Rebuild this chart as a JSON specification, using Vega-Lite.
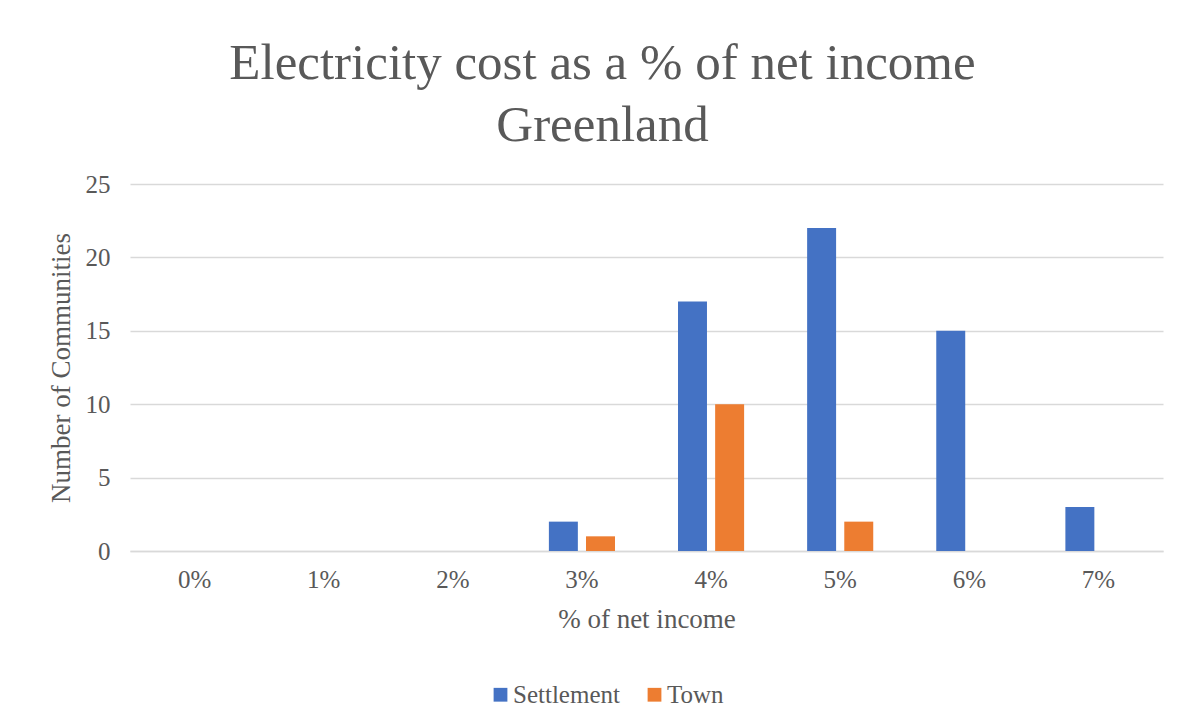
{
  "$schema": "https://vega.github.io/schema/vega-lite/v6.json",
  "autosize": {"type": "none"},
  "padding": {"left": 130, "top": 184, "right": 24, "bottom": 172},
  "width": 1033,
  "height": 367,
  "background": "white",
  "title": {
    "text": ["Electricity cost as a % of net income", "Greenland"],
    "anchor": "middle",
    "frame": "group",
    "dx": -44,
    "fontSize": 51,
    "lineHeight": 62,
    "font": "Liberation Serif",
    "fontWeight": "normal",
    "color": "#595959",
    "offset": 20
  },
  "data": {
    "values": [
      {"pct": "0%", "type": "Settlement", "count": 0},
      {"pct": "0%", "type": "Town", "count": 0},
      {"pct": "1%", "type": "Settlement", "count": 0},
      {"pct": "1%", "type": "Town", "count": 0},
      {"pct": "2%", "type": "Settlement", "count": 0},
      {"pct": "2%", "type": "Town", "count": 0},
      {"pct": "3%", "type": "Settlement", "count": 2},
      {"pct": "3%", "type": "Town", "count": 1},
      {"pct": "4%", "type": "Settlement", "count": 17},
      {"pct": "4%", "type": "Town", "count": 10},
      {"pct": "5%", "type": "Settlement", "count": 22},
      {"pct": "5%", "type": "Town", "count": 2},
      {"pct": "6%", "type": "Settlement", "count": 15},
      {"pct": "6%", "type": "Town", "count": 0},
      {"pct": "7%", "type": "Settlement", "count": 3},
      {"pct": "7%", "type": "Town", "count": 0}
    ]
  },
  "mark": {"type": "bar"},
  "encoding": {
    "x": {
      "field": "pct",
      "type": "nominal",
      "sort": ["0%", "1%", "2%", "3%", "4%", "5%", "6%", "7%"],
      "scale": {"paddingInner": 0.488, "paddingOuter": 0.244},
      "axis": {
        "title": "% of net income",
        "labelAngle": 0,
        "ticks": false,
        "domain": true,
        "domainColor": "#d9d9d9",
        "domainWidth": 1.5,
        "labelPadding": 16,
        "titlePadding": 14
      }
    },
    "xOffset": {
      "field": "type",
      "type": "nominal",
      "scale": {"paddingInner": 0.22, "paddingOuter": 0}
    },
    "y": {
      "field": "count",
      "type": "quantitative",
      "scale": {"domain": [0, 25]},
      "axis": {
        "title": "Number of Communities",
        "values": [0, 5, 10, 15, 20, 25],
        "ticks": false,
        "domain": false,
        "grid": true,
        "gridColor": "#d9d9d9",
        "gridWidth": 1.5,
        "labelPadding": 20,
        "titlePadding": 10
      }
    },
    "color": {
      "field": "type",
      "type": "nominal",
      "scale": {"domain": ["Settlement", "Town"], "range": ["#4472C4", "#ED7D31"]},
      "legend": {
        "title": null,
        "orient": "none",
        "direction": "horizontal",
        "legendX": 358,
        "legendY": 498,
        "symbolType": "square",
        "symbolSize": 190,
        "symbolStrokeWidth": 0,
        "labelFont": "Liberation Serif",
        "labelFontSize": 25,
        "labelColor": "#595959",
        "labelOffset": 0,
        "columnPadding": 22
      }
    }
  },
  "config": {
    "view": {"stroke": null},
    "font": "Liberation Serif",
    "axis": {
      "labelFont": "Liberation Serif",
      "titleFont": "Liberation Serif",
      "labelFontSize": 25,
      "titleFontSize": 27,
      "labelColor": "#595959",
      "titleColor": "#595959",
      "titleFontWeight": "normal"
    }
  }
}
